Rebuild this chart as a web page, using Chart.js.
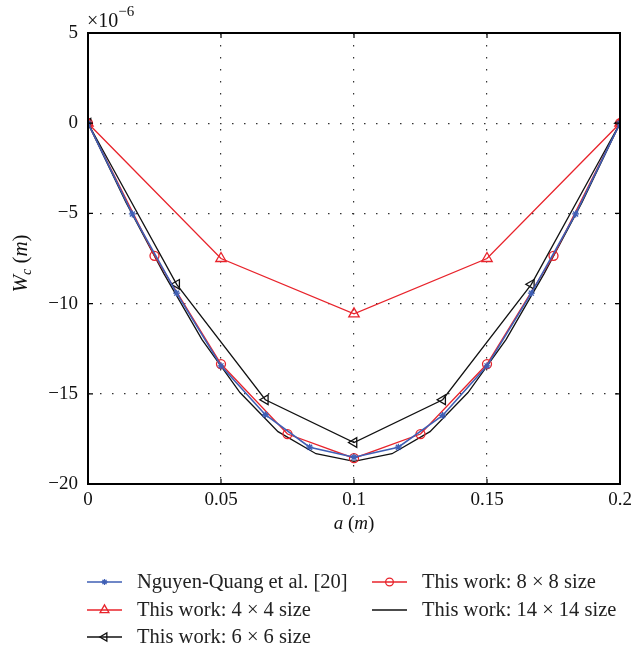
<!DOCTYPE html>
<html>
<head>
<meta charset="utf-8">
<script src="https://cdn.jsdelivr.net/npm/chart.js@4"></script>
<style>
  html, body { margin: 0; padding: 0; background: #fff; }
  #wrap { width: 632px; height: 650px; position: relative; }
</style>
</head>
<body>
<div id="wrap"><canvas id="chart"></canvas></div>
<script>
// center deflection W_c (x10^-6 m) along a (m)
const xRef = [0, 0.01667, 0.03333, 0.05, 0.06667, 0.08333, 0.1, 0.11667, 0.13333, 0.15, 0.16667, 0.18333, 0.2];
const wRef = [0, -5.03, -9.42, -13.45, -16.16, -17.96, -18.52, -17.96, -16.2, -13.45, -9.42, -5.03, 0];
const x4 = [0, 0.05, 0.1, 0.15, 0.2];
const w4 = [0, -7.5, -10.57, -7.5, 0];
const x6 = [0, 0.03333, 0.06667, 0.1, 0.13333, 0.16667, 0.2];
const w6 = [0, -8.93, -15.33, -17.7, -15.33, -8.93, 0];
const x8 = [0, 0.025, 0.05, 0.075, 0.1, 0.125, 0.15, 0.175, 0.2];
const w8 = [0, -7.35, -13.35, -17.23, -18.57, -17.23, -13.35, -7.35, 0];
const x14 = [0, 0.01429, 0.02857, 0.04286, 0.05714, 0.07143, 0.08571, 0.1, 0.11429, 0.12857, 0.14286, 0.15714, 0.17143, 0.18571, 0.2];
const w14 = [0, -4.4, -8.35, -12.0, -14.93, -17.1, -18.32, -18.75, -18.32, -17.1, -14.93, -12.0, -8.35, -4.4, 0];

const xTicks = [0, 0.05, 0.1, 0.15, 0.2];
const yTicks = [-20, -15, -10, -5, 0, 5];

const labels = [
    "Nguyen-Quang et al. [20]",
    "This work: 4 \u00d7 4 size",
    "This work: 6 \u00d7 6 size",
    "This work: 8 \u00d7 8 size",
    "This work: 14 \u00d7 14 size"
];

const BLUE = "#3f5fb5";
const RED = "#e8232b";
const BLACK = "#111111";
const SERIF = "'Liberation Serif', 'DejaVu Serif', serif";

function pts(xs, ys) {
    return xs.map((x, i) => ({ x: x, y: ys[i] }));
}

function series(label, xs, ys, color, style, radius, rotation) {
    return {
        label: label,
        data: pts(xs, ys),
        borderColor: color,
        backgroundColor: "rgba(0,0,0,0)",
        borderWidth: 1.3,
        pointStyle: style,
        pointRadius: radius,
        pointRotation: rotation || 0,
        pointBorderColor: color,
        pointBackgroundColor: "rgba(0,0,0,0)",
        pointBorderWidth: 1.3,
        tension: 0
    };
}

const datasets = [
    series(labels[0], xRef, wRef, BLUE, "star", 3.5),
    series(labels[1], x4, w4, RED, "triangle", 6),
    series(labels[2], x6, w6, BLACK, "triangle", 5.5, 270),
    series(labels[3], x8, w8, RED, "circle", 4.5),
    series(labels[4], x14, w14, BLACK, false, 0)
];
datasets[0].borderWidth = 1.6;

function minus(v) {
    return v < 0 ? "\u2212" + Math.abs(v) : String(v);
}

// draw a run of text pieces, some italic, some subscript/superscript
function drawPieces(ctx, pieces, x, y, align, base) {
    let total = 0;
    pieces.forEach(p => {
        ctx.font = (p.it ? "italic " : "") + (p.size || base) + "px " + SERIF;
        p.w = ctx.measureText(p.t).width;
        total += p.w;
    });
    let cx = align === "center" ? x - total / 2 : x;
    pieces.forEach(p => {
        ctx.font = (p.it ? "italic " : "") + (p.size || base) + "px " + SERIF;
        ctx.fillText(p.t, cx, y + (p.dy || 0));
        cx += p.w;
    });
}

const decorPlugin = {
    id: "decor",
    afterDraw(chart) {
        const ctx = chart.ctx;
        const a = chart.chartArea;
        const xs = chart.scales.x;
        const ys = chart.scales.y;
        ctx.save();

        // inward tick marks
        ctx.strokeStyle = "#000";
        ctx.lineWidth = 1.2;
        ctx.beginPath();
        xTicks.forEach(v => {
            const px = xs.getPixelForValue(v);
            ctx.moveTo(px, a.bottom); ctx.lineTo(px, a.bottom - 5);
            ctx.moveTo(px, a.top); ctx.lineTo(px, a.top + 5);
        });
        yTicks.forEach(v => {
            const py = ys.getPixelForValue(v);
            ctx.moveTo(a.left, py); ctx.lineTo(a.left + 5, py);
            ctx.moveTo(a.right, py); ctx.lineTo(a.right - 5, py);
        });
        ctx.stroke();

        // box
        ctx.lineWidth = 2;
        ctx.strokeRect(a.left, a.top, a.right - a.left, a.bottom - a.top);

        // exponent
        ctx.fillStyle = "#111";
        ctx.textBaseline = "alphabetic";
        ctx.textAlign = "left";
        drawPieces(ctx, [
            { t: "\u00d710" },
            { t: "\u22126", size: 15, dy: -11 }
        ], a.left - 1, 27, "left", 20);

        // x title
        drawPieces(ctx, [
            { t: "a", it: true }, { t: " (" }, { t: "m", it: true }, { t: ")" }
        ], (a.left + a.right) / 2, 529, "center", 19);

        // y title
        ctx.save();
        ctx.translate(27, (a.top + a.bottom) / 2 + 5);
        ctx.rotate(-Math.PI / 2);
        drawPieces(ctx, [
            { t: "W", it: true }, { t: "c", it: true, size: 14, dy: 4 },
            { t: " (" }, { t: "m", it: true }, { t: ")" }
        ], 0, 0, "center", 21);
        ctx.restore();

        // legend, two columns filled top to bottom
        const cols = [{ x: 87, n: [0, 1, 2] }, { x: 372, n: [3, 4] }];
        const rows = [582, 610, 637];
        ctx.font = "20.5px " + SERIF;
        ctx.textBaseline = "middle";
        cols.forEach(col => {
            col.n.forEach((di, r) => {
                const ds = chart.data.datasets[di];
                const y = rows[r];
                ctx.strokeStyle = ds.borderColor;
                ctx.lineWidth = ds.borderWidth;
                ctx.beginPath();
                ctx.moveTo(col.x, y);
                ctx.lineTo(col.x + 35, y);
                ctx.stroke();
                if (ds.pointStyle) {
                    ctx.lineWidth = ds.pointBorderWidth;
                    ctx.fillStyle = ds.pointBackgroundColor;
                    Chart.helpers.drawPoint(ctx, {
                        pointStyle: ds.pointStyle,
                        rotation: ds.pointRotation,
                        radius: ds.pointRadius * 0.85,
                        borderWidth: ds.pointBorderWidth
                    }, col.x + 17.5, y);
                }
                ctx.fillStyle = "#222";
                ctx.fillText(ds.label, col.x + 50, y + 1);
            });
        });
        ctx.restore();
    }
};

new Chart(document.getElementById("chart"), {
    type: "line",
    data: { datasets: datasets },
    plugins: [decorPlugin],
    options: {
        responsive: true,
        maintainAspectRatio: false,
        animation: false,
        layout: { padding: { left: 0, top: 33, right: 12, bottom: 126 } },
        plugins: {
            legend: { display: false },
            tooltip: { enabled: false }
        },
        scales: {
            x: {
                type: "linear",
                min: 0,
                max: 0.2,
                afterBuildTicks: s => { s.ticks = xTicks.map(v => ({ value: v })); },
                afterFit: s => { s.height = 40; s.paddingLeft = 0; s.paddingRight = 0; },
                ticks: {
                    padding: 5,
                    color: "#111",
                    font: { family: SERIF, size: 19 },
                    callback: v => String(v)
                },
                grid: { color: "#333", lineWidth: 1.2, drawTicks: false },
                border: { display: false, dash: [1.5, 10.5] }
            },
            y: {
                type: "linear",
                min: -20,
                max: 5,
                afterBuildTicks: s => { s.ticks = yTicks.map(v => ({ value: v })); },
                afterFit: s => { s.width = 88; },
                ticks: {
                    padding: 10,
                    color: "#111",
                    font: { family: SERIF, size: 19 },
                    callback: v => minus(v)
                },
                grid: { color: "#333", lineWidth: 1.2, drawTicks: false },
                border: { display: false, dash: [1.5, 10.5] }
            }
        }
    }
});
</script>
</body>
</html>
